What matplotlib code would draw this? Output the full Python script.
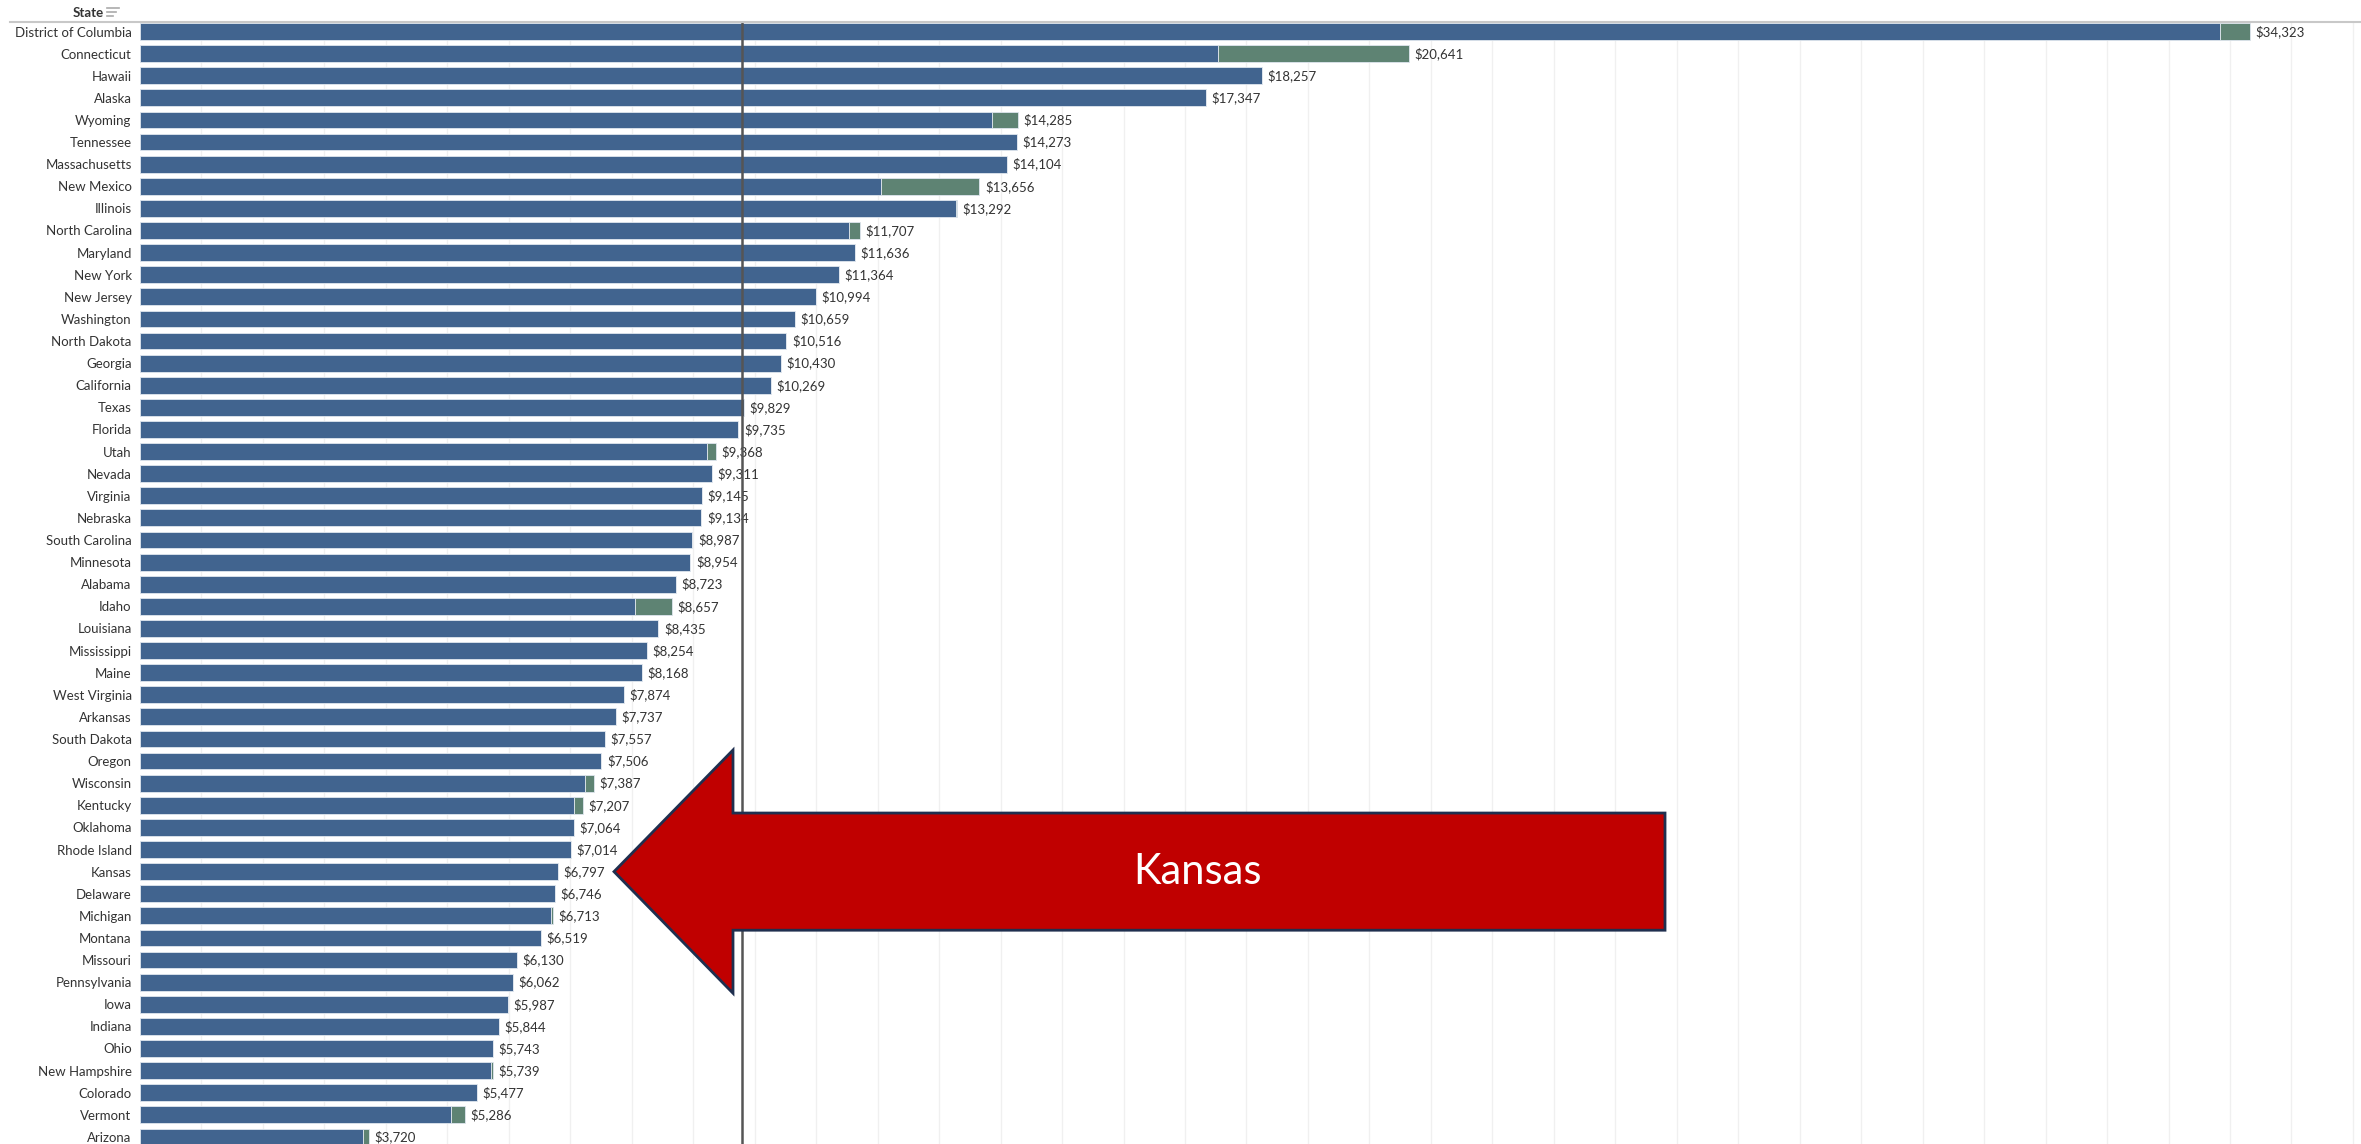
import numpy as np
import matplotlib.pyplot as plt
from matplotlib.patches import Polygon
from matplotlib.lines import Line2D

plt.rcParams['font.family'] = ['Lato', 'DejaVu Sans']

states = ["District of Columbia", "Connecticut", "Hawaii", "Alaska", "Wyoming",
          "Tennessee", "Massachusetts", "New Mexico", "Illinois", "North Carolina",
          "Maryland", "New York", "New Jersey", "Washington", "North Dakota",
          "Georgia", "California", "Texas", "Florida", "Utah", "Nevada", "Virginia",
          "Nebraska", "South Carolina", "Minnesota", "Alabama", "Idaho", "Louisiana",
          "Mississippi", "Maine", "West Virginia", "Arkansas", "South Dakota",
          "Oregon", "Wisconsin", "Kentucky", "Oklahoma", "Rhode Island", "Kansas",
          "Delaware", "Michigan", "Montana", "Missouri", "Pennsylvania", "Iowa",
          "Indiana", "Ohio", "New Hampshire", "Colorado", "Vermont", "Arizona"]

totals = [34323, 20641, 18257, 17347, 14285, 14273, 14104, 13656, 13292, 11707,
          11636, 11364, 10994, 10659, 10516, 10430, 10269, 9829, 9735, 9368,
          9311, 9145, 9134, 8987, 8954, 8723, 8657, 8435, 8254, 8168, 7874,
          7737, 7557, 7506, 7387, 7207, 7064, 7014, 6797, 6746, 6713, 6519,
          6130, 6062, 5987, 5844, 5743, 5739, 5477, 5286, 3720]

# second (green) segment of each bar
second = [485, 3102, 0, 0, 420, 0, 0, 1607, 25, 178,
          0, 0, 0, 0, 0, 0, 0, 0, 0, 143,
          0, 0, 0, 0, 0, 0, 600, 0, 0, 0, 0,
          0, 0, 0, 155, 150, 0, 0, 0, 0, 25, 0,
          0, 0, 0, 0, 0, 30, 0, 225, 100]

ref_value = 9790

totals = np.array(totals)
second = np.array(second)
first = totals - second
y = np.arange(len(states))

blue = "#41648f"
green = "#5e8373"

fig = plt.figure(figsize=(23.61, 11.44), dpi=100)
ax = fig.add_axes([140 / 2361, 0, 1 - 140 / 2361, 1 - 22 / 1144])

ax.barh(y, first, height=0.76, color=blue, edgecolor="#dfe6ee", linewidth=0.6, zorder=2)
ax.barh(y, second, left=first, height=0.76, color=green, edgecolor="#dfe6ee",
        linewidth=0.6, zorder=2)

for yi, t in zip(y, totals):
    ax.text(t + 90, yi, f"${t:,}", va="center", ha="left", fontsize=9.5,
            color="#333333", zorder=3)

ax.axvline(ref_value, color="#555555", lw=1.8, zorder=4)

xmax = (2361 - 140) / 0.06147
ax.set_xlim(0, xmax)
ax.set_ylim(len(states) - 1 + 0.32, -0.43)
ax.set_xticks(np.arange(1000, xmax, 1000))
ax.grid(axis="x", color="#f0f0f0", lw=1, zorder=0)
ax.tick_params(axis="x", length=0, labelbottom=False)
ax.set_yticks(y)
ax.set_yticklabels(states, fontsize=9.5, color="#333333")
ax.tick_params(axis="y", length=0, pad=6)
for s in ax.spines.values():
    s.set_visible(False)

# Kansas arrow
ky = states.index("Kansas")
arrow = [(7711, ky), (9647, ky - 5.5), (9647, ky - 2.65), (24809, ky - 2.65),
         (24809, ky + 2.65), (9647, ky + 2.65), (9647, ky + 5.5)]
ax.add_patch(Polygon(arrow, closed=True, facecolor="#c00000", edgecolor="#1f2f4f",
                     lw=2, zorder=5))
ax.text(17200, ky, "Kansas", color="white", fontsize=30, ha="center", va="center",
        zorder=6)

# header row
fig.text(88 / 2361, 1 - 13 / 1144, "State", fontsize=9.5, fontweight="bold",
         color="#333333", ha="center", va="center")
for i, w in enumerate([12, 9, 6]):
    yy = 1 - (8 + i * 4) / 1144
    fig.add_artist(Line2D([107 / 2361, (107 + w) / 2361], [yy, yy], color="#aaaaaa",
                          lw=1.2))
fig.add_artist(Line2D([10 / 2361, 1], [1 - 22 / 1144] * 2, color="#c8c8c8", lw=1.5))

fig.savefig("out.png", dpi=100)
